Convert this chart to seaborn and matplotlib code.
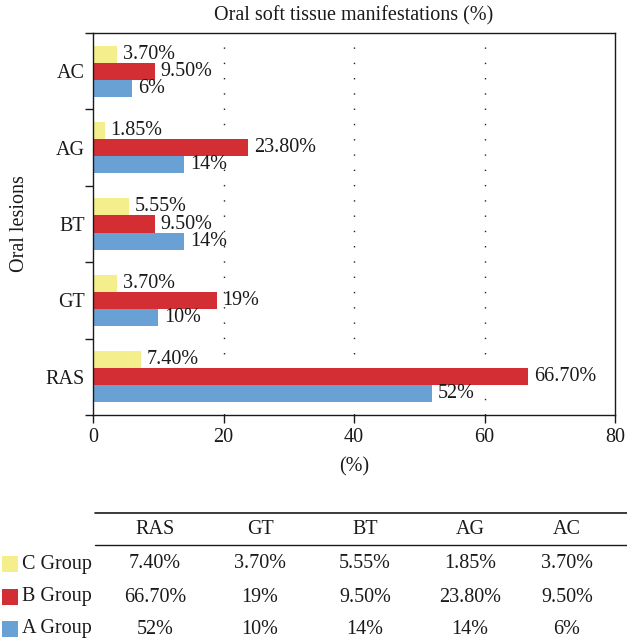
import matplotlib
matplotlib.use("Agg")
import matplotlib.pyplot as plt
import seaborn as sns
import pandas as pd
from matplotlib.patches import Rectangle
from matplotlib.lines import Line2D

lesions = ["AC", "AG", "BT", "GT", "RAS"]
groups = ["C Group", "B Group", "A Group"]
c_vals = [3.70, 1.85, 5.55, 3.70, 7.40]
b_vals = [9.50, 23.80, 9.50, 19.0, 66.70]
a_vals = [6.0, 14.0, 14.0, 10.0, 52.0]
c_text = ["3.70%", "1.85%", "5.55%", "3.70%", "7.40%"]
b_text = ["9.50%", "23.80%", "9.50%", "19%", "66.70%"]
a_text = ["6%", "14%", "14%", "10%", "52%"]
table_cols = ["RAS", "GT", "BT", "AG", "AC"]
colors = ["#F4EF8C", "#D42E35", "#6AA1D5"]

sns.set_theme(style="white")
plt.rcParams["font.family"] = ["Liberation Serif", "DejaVu Serif"]
FS = 14.5

df = pd.DataFrame({
    "lesion": lesions * 3,
    "group": [groups[0]] * 5 + [groups[1]] * 5 + [groups[2]] * 5,
    "value": c_vals + b_vals + a_vals,
})

fig = plt.figure(figsize=(6.27, 6.42), dpi=100)
ax = fig.add_axes([93/627, 1-415/642, 522/627, 382/642])
sns.barplot(data=df, y="lesion", x="value", hue="group", order=lesions,
            hue_order=groups, palette=colors, orient="h", width=0.67,
            ax=ax, legend=False, saturation=1, linewidth=0)

texts = [c_text, b_text, a_text]
for cont, t in zip(ax.containers, texts):
    ax.bar_label(cont, labels=t, padding=4, fontsize=FS, color="#1a1a1a")

ax.set_xlim(0, 80)
ax.set_ylim(4.5, -0.5)
ax.set_xticks([0, 20, 40, 60, 80])
ax.tick_params(axis="x", length=6, width=1, direction="out", labelsize=FS,
               bottom=True, colors="#1a1a1a", pad=3)
ax.tick_params(axis="y", which="major", length=0, labelsize=FS, pad=6,
               colors="#1a1a1a")
ax.set_yticks([i + 0.5 for i in range(-1, 5)], minor=True)
ax.tick_params(axis="y", which="minor", length=6, width=1, left=True,
               direction="out", color="#1a1a1a")
for x in [20, 40, 60]:
    ax.axvline(x, color="#222222", linestyle=(0, (1, 10)), linewidth=1, zorder=0)
for s in ax.spines.values():
    s.set_visible(True)
    s.set_color("#1a1a1a")
    s.set_linewidth(1)
ax.set_xlabel("(%)", fontsize=FS, labelpad=8, color="#1a1a1a")
ax.set_ylabel("Oral lesions", fontsize=FS, labelpad=12, color="#1a1a1a")
ax.set_title("Oral soft tissue manifestations (%)", fontsize=FS, pad=9,
             color="#1a1a1a")

# table below
W, H = 627, 642
def fy(py):
    return 1 - py / H
def fx(px):
    return px / W

fig.add_artist(Line2D([fx(95), fx(627)], [fy(513), fy(513)],
                      transform=fig.transFigure, color="#1a1a1a", lw=1.2))
fig.add_artist(Line2D([fx(95), fx(627)], [fy(545), fy(545)],
                      transform=fig.transFigure, color="#1a1a1a", lw=1.0))
col_x = [155, 260, 365, 470, 567]
for cx, name in zip(col_x, table_cols):
    fig.text(fx(cx), fy(530), name, ha="center", va="center", fontsize=FS,
             color="#1a1a1a")
row_y = [564, 597, 629]
order_idx = [lesions.index(c) for c in table_cols]
for ry, g, col, t in zip(row_y, groups, colors, texts):
    fig.add_artist(Rectangle((fx(2), fy(ry + 8)), fx(16), 16 / H,
                             transform=fig.transFigure, color=col, lw=0))
    fig.text(fx(22), fy(ry), g, ha="left", va="center", fontsize=FS,
             color="#1a1a1a")
    for cx, i in zip(col_x, order_idx):
        fig.text(fx(cx), fy(ry), t[i], ha="center", va="center", fontsize=FS,
                 color="#1a1a1a")

fig.savefig("out.png", dpi=100)
